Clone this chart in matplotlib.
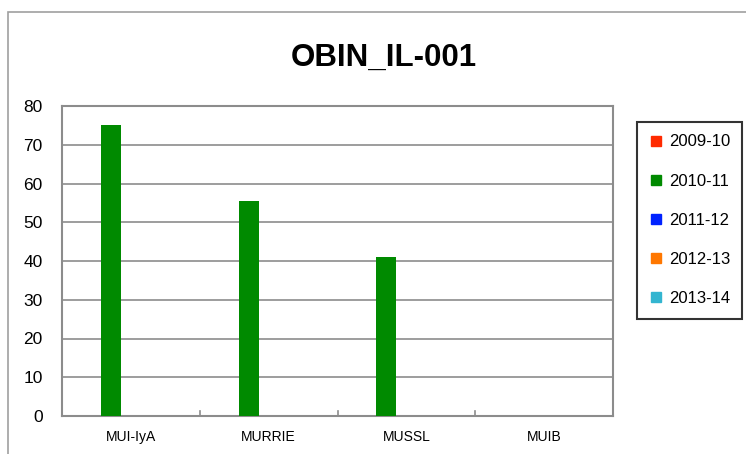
import numpy as np
import matplotlib
matplotlib.use('Agg')
import matplotlib.pyplot as plt
from matplotlib.patches import Rectangle
from matplotlib.lines import Line2D

plt.rcParams['font.family'] = ['Liberation Sans', 'DejaVu Sans']

title = 'OBIN_IL-001'
categories = ['MUI-IyA', 'MURRIE', 'MUSSL', 'MUIB']
seasons = ['2009-10', '2010-11', '2011-12', '2012-13', '2013-14']
colors = ['#ff2a00', '#008a00', '#0022ff', '#ff7700', '#33b5d0']
values = {
    '2009-10': [0, 0, 0, 0],
    '2010-11': [75, 55.5, 41, 0],
    '2011-12': [0, 0, 0, 0],
    '2012-13': [0, 0, 0, 0],
    '2013-14': [0, 0, 0, 0],
}
yticks = [0, 10, 20, 30, 40, 50, 60, 70, 80]

W, H = 746, 454
fig = plt.figure(figsize=(W / 100, H / 100), dpi=100)

# outer chart frame (cropped on right and bottom)
fig.patches.append(Rectangle((8 / W, -0.1), 1.2, (H - 12) / H + 0.1,
                             transform=fig.transFigure, fill=False,
                             edgecolor='#a0a0a0', linewidth=1.2))

ax = fig.add_axes([62 / W, 1 - 416 / H, (613 - 62) / W, (416 - 106) / H])

x = np.arange(len(categories))
bw = 0.145
for i, s in enumerate(seasons):
    vals = values[s]
    ax.bar(x + (i - 2) * bw, vals, width=bw, color=colors[i], zorder=3)

ax.set_xlim(-0.5, len(categories) - 0.5)
ax.set_ylim(0, 80)
ax.set_yticks(yticks)
ax.set_yticklabels([str(v) for v in yticks], fontsize=12.5)
ax.set_xticks(x)
ax.set_xticklabels(categories, fontsize=10)
ax.tick_params(axis='y', length=0, pad=14)
ax.tick_params(axis='x', length=0, pad=10)
ax.grid(axis='y', color='#8c8c8c', linewidth=1.2, zorder=0)
for sp in ax.spines.values():
    sp.set_color('#8c8c8c')
    sp.set_linewidth(1.5)

# category separators on the x axis
for b in [0.5, 1.5, 2.5]:
    ax.plot([b, b], [0, 1.3], color='#8c8c8c', linewidth=1.2, zorder=4, clip_on=False)

fig.text(384 / W, 1 - 58 / H, title, ha='center', va='center',
         fontsize=22.5, fontweight='bold')

handles = [Line2D([], [], marker='s', linestyle='none', markersize=7,
                  markerfacecolor=c, markeredgecolor=c) for c in colors]
leg = fig.legend(handles, seasons, loc='upper left',
                 bbox_to_anchor=(637 / W, 1 - 122 / H), fontsize=12,
                 frameon=True, fancybox=False, edgecolor='black',
                 handlelength=0.8, handletextpad=0.35, labelspacing=1.45,
                 borderpad=0.75, borderaxespad=0)
leg.get_frame().set_linewidth(1.5)

fig.savefig('out.png', dpi=100)
